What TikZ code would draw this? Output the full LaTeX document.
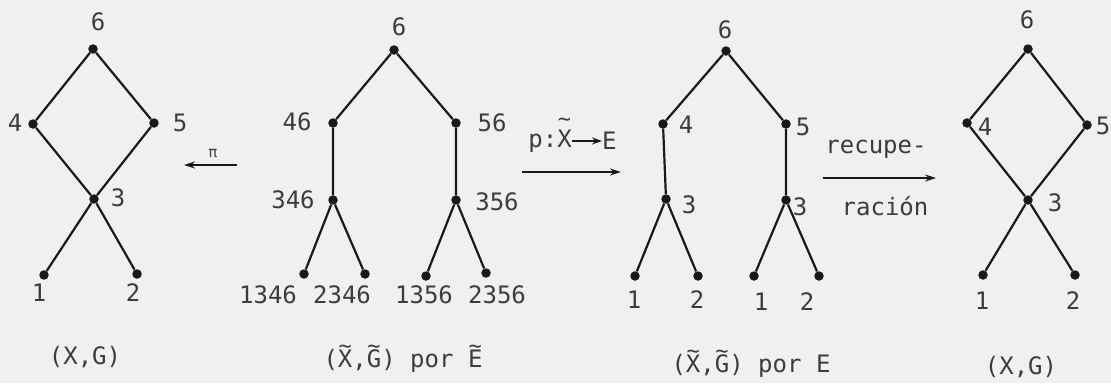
\documentclass[tikz,border=0pt]{standalone}
\usepackage{fontspec}
\setmainfont{DejaVu Sans Mono}
\usetikzlibrary{arrows.meta}
\definecolor{bg}{RGB}{240,240,240}
\definecolor{ink}{RGB}{25,25,25}
\definecolor{txt}{RGB}{60,60,60}
% tilde set above a letter, raised by #1
\newcommand\tld[2][14pt]{\ooalign{#2\cr\hidewidth\smash{\raisebox{#1}{\fontsize{22}{22}\selectfont\char"7E}}\hidewidth\cr}}
\tikzset{
  dot/.style={circle,fill=ink,inner sep=0pt,minimum size=9.5pt},
  edge/.style={draw=ink,line width=2.2pt},
  lab/.style={inner sep=0pt,text=txt,font=\fontsize{24}{27}\selectfont},
  maparrow/.style={draw=ink,line width=1.3pt,-{Stealth[length=11pt,width=7pt]}},
}
\begin{document}
\begin{tikzpicture}[x=1pt,y=-1pt]
\fill[bg] (0,0) rectangle (1111,383);
\useasboundingbox (0,0) rectangle (1111,383);
% ---------- diagram 1 ----------
\node[dot] (a6) at (93,49) {};
\node[dot] (a4) at (33,124) {};
\node[dot] (a5) at (154,123) {};
\node[dot] (a3) at (94,199) {};
\node[dot] (a1) at (44,275) {};
\node[dot] (a2) at (137,274) {};
\draw[edge] (a6) -- (a4) -- (a3) -- (a1);
\draw[edge] (a6) -- (a5) -- (a3) -- (a2);
\node[lab] (la6) at (98,22) {6};
\node[lab] (la4) at (15,123) {4};
\node[lab] (la5) at (180,123) {5};
\node[lab] (la3) at (118,198) {3};
\node[lab] (la1) at (39,293) {1};
\node[lab] (la2) at (133,293) {2};
\node[lab] (ca) at (85,357) {(X,G)};
% pi arrow
\coordinate (p1s) at (237,165);
\coordinate (p1e) at (184,165);
\draw[maparrow] (p1s) -- (p1e);
\node[lab,font=\fontsize{15}{16}\selectfont] (pil) at (213,154) {π};
% ---------- diagram 2 ----------
\node[dot] (b6) at (394,50) {};
\node[dot] (b46) at (333,123) {};
\node[dot] (b56) at (456,123) {};
\node[dot] (b346) at (333,200) {};
\node[dot] (b356) at (456,200) {};
\node[dot] (b1346) at (304,274) {};
\node[dot] (b2346) at (365,274) {};
\node[dot] (b1356) at (426,276) {};
\node[dot] (b2356) at (486,273) {};
\draw[edge] (b6) -- (b46) -- (b346) -- (b1346);
\draw[edge] (b346) -- (b2346);
\draw[edge] (b6) -- (b56) -- (b356) -- (b1356);
\draw[edge] (b356) -- (b2356);
\node[lab] (lb6) at (399,27) {6};
\node[lab] (lb46) at (297,122) {46};
\node[lab] (lb56) at (492,123) {56};
\node[lab] (lb346) at (293,200) {346};
\node[lab] (lb356) at (497,202) {356};
\node[lab] (lb1346) at (268,295) {1346};
\node[lab] (lb2346) at (342,295) {2346};
\node[lab] (lb1356) at (424,295) {1356};
\node[lab] (lb2356) at (497,295) {2356};
\node[lab] (cb) at (403,361) {(\tld{X},\tld{G}) por \tld{E}};
% p arrow
\coordinate (p2s) at (522,172);
\coordinate (p2e) at (621,172);
\draw[maparrow] (p2s) -- (p2e);
\node[lab,anchor=east] (plx) at (572,141) {p:\tld[21pt]{X}};
\node[lab,anchor=west] (ple) at (602,141) {E};
\draw[draw=ink,line width=1.8pt,-{Stealth[length=10pt,width=7pt]}] (plx) -- (ple);
% ---------- diagram 3 ----------
\node[dot] (c6) at (726,51) {};
\node[dot] (c4) at (663,124) {};
\node[dot] (c5) at (786,124) {};
\node[dot] (c3a) at (666,199) {};
\node[dot] (c3b) at (786,200) {};
\node[dot] (c1a) at (635,276) {};
\node[dot] (c2a) at (698,276) {};
\node[dot] (c1b) at (754,276) {};
\node[dot] (c2b) at (819,276) {};
\draw[edge] (c6) -- (c4) -- (c3a) -- (c1a);
\draw[edge] (c3a) -- (c2a);
\draw[edge] (c6) -- (c5) -- (c3b) -- (c1b);
\draw[edge] (c3b) -- (c2b);
\node[lab] (lc6) at (725,30) {6};
\node[lab] (lc4) at (686,125) {4};
\node[lab] (lc5) at (803,127) {5};
\node[lab] (lc3a) at (689,205) {3};
\node[lab] (lc3b) at (800,207) {3};
\node[lab] (lc1a) at (634,300) {1};
\node[lab] (lc2a) at (697,300) {2};
\node[lab] (lc1b) at (761,302) {1};
\node[lab] (lc2b) at (807,302) {2};
\node[lab] (cc) at (751,366) {(\tld{X},\tld{G}) por E};
% recuperacion arrow
\coordinate (p3s) at (823,178);
\coordinate (p3e) at (936,178);
\draw[maparrow] (p3s) -- (p3e);
\node[lab,anchor=base] (rl1) at (876,153) {recupe-};
\node[lab,anchor=base] (rl2) at (885,215) {ración};
% ---------- diagram 4 ----------
\node[dot] (d6) at (1028,49) {};
\node[dot] (d4) at (967,123) {};
\node[dot] (d5) at (1087,125) {};
\node[dot] (d3) at (1028,200) {};
\node[dot] (d1) at (983,275) {};
\node[dot] (d2) at (1075,275) {};
\draw[edge] (d6) -- (d4) -- (d3) -- (d1);
\draw[edge] (d6) -- (d5) -- (d3) -- (d2);
\node[lab] (ld6) at (1027,20) {6};
\node[lab] (ld4) at (985,127) {4};
\node[lab] (ld5) at (1103,126) {5};
\node[lab] (ld3) at (1055,203) {3};
\node[lab] (ld1) at (982,301) {1};
\node[lab] (ld2) at (1073,301) {2};
\node[lab] (cd) at (1021,367) {(X,G)};
\end{tikzpicture}
\end{document}
